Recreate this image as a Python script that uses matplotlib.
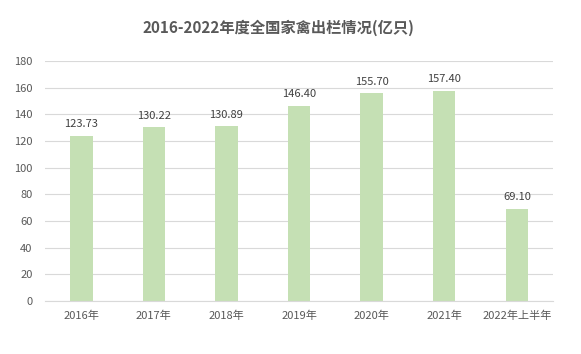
import matplotlib
matplotlib.use("Agg")
import matplotlib.pyplot as plt

plt.rcParams['font.family'] = ['Noto Sans CJK SC', 'DejaVu Sans']

categories = ['2016年', '2017年', '2018年', '2019年', '2020年', '2021年', '2022年上半年']
values = [123.73, 130.22, 130.89, 146.40, 155.70, 157.40, 69.10]
yticks = [0, 20, 40, 60, 80, 100, 120, 140, 160, 180]

fig = plt.figure(figsize=(5.81, 3.54), dpi=100)
ax = fig.add_axes([0.0775, 0.150, 0.8745, 0.678])

x = range(len(categories))
ax.bar(x, values, width=0.31, color='#C5E0B4', zorder=2)
for xi, v in zip(x, values):
    ax.text(xi, v + 5, f'{v:.2f}', ha='center', va='bottom', fontsize=8, color='#404040')

ax.set_xlim(-0.5, len(categories) - 0.5)
ax.set_ylim(0, 180)
ax.set_yticks(yticks)
ax.set_xticks(list(x))
ax.set_xticklabels(categories)
ax.grid(axis='y', color='#D9D9D9', linewidth=0.8, zorder=0)
for s in ['top', 'right', 'left']:
    ax.spines[s].set_visible(False)
ax.spines['bottom'].set_color('#D9D9D9')
ax.tick_params(axis='both', length=0, labelsize=8, colors='#595959')
ax.tick_params(axis='y', pad=9)
ax.tick_params(axis='x', pad=7)

fig.text(0.48, 0.922, '2016-2022年度全国家禽出栏情况(亿只)', ha='center', va='center',
         fontsize=11, fontweight='bold', color='#595959')

fig.savefig('out.png', dpi=100)
